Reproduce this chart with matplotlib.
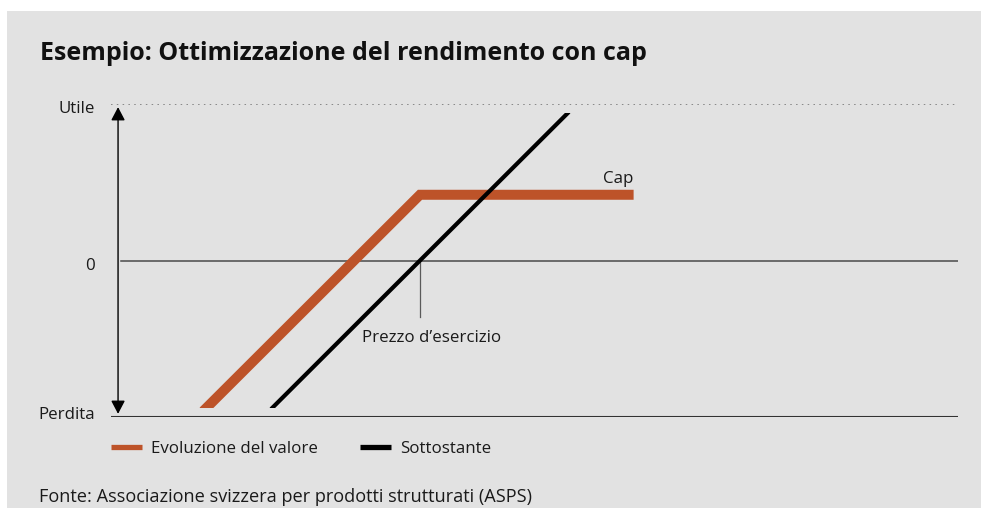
import matplotlib
matplotlib.use("Agg")
import matplotlib.pyplot as plt
from matplotlib.lines import Line2D
from matplotlib.patches import Rectangle

# ---------------- data ----------------
title = "Esempio: Ottimizzazione del rendimento con cap"
source = "Fonte: Associazione svizzera per prodotti strutturati (ASPS)"
level_values = [100, 0, -100]
level_labels = ["Utile", "0", "Perdita"]
strike = 197
cap_level = 42
value_x = [61, 197, 330]          # Evoluzione del valore (capped payoff)
value_y = [-94, 42, 42]
under_x = [103, 291]               # Sottostante
under_y = [-94, 94]
series_names = ["Evoluzione del valore", "Sottostante"]
strike_label = "Prezzo d\u2019esercizio"
cap_label = "Cap"

# ---------------- style ----------------
ORANGE = "#bd5329"
BLACK = "#000000"
BG = "#e2e2e2"
TXT = "#1a1a1a"
FS = 12.2
plt.rcParams["font.family"] = ["Open Sans", "DejaVu Sans"]

W, H = 981, 508
fig = plt.figure(figsize=(W / 100, H / 100), dpi=100, facecolor="white")
fig.patches.append(Rectangle((7 / W, 0), 1 - 7 / W, 1 - 11 / H, transform=fig.transFigure,
                             facecolor=BG, edgecolor="none", zorder=-10))

ax = fig.add_axes([111 / W, (H - 417) / H, (958 - 111) / W, (417 - 104) / H])
ax.set_facecolor("none")
ax.set_xlim(0, 540)
ax.set_ylim(-100, 100)
for s in ax.spines.values():
    s.set_visible(False)
ax.set_xticks([])
ax.set_yticks([])

# reference levels
ax.axhline(level_values[0], xmin=0, xmax=(956 - 111) / (958 - 111), color="#707070",
           lw=1.1, linestyle=(0, (1.0, 2.8)), zorder=1)
ax.axhline(level_values[1], xmin=(121 - 111) / (958 - 111), xmax=1, color="#4a4a4a", lw=1.1, zorder=1)
ax.axhline(level_values[2], xmin=(112 - 111) / (958 - 111), xmax=1, color="#333333", lw=1.5, zorder=1)

# level labels
offsets = [-9, -9, -2]
for v, lab, off in zip(level_values, level_labels, offsets):
    ax.annotate(lab, xy=(0, v), xycoords=("axes fraction", "data"),
                xytext=(-16, off), textcoords="offset pixels",
                ha="right", va="baseline", fontsize=FS, color=TXT)

# double arrow
ax.annotate("", xy=(4.5, 98), xytext=(4.5, -98),
            arrowprops=dict(arrowstyle="<|-|>,head_length=0.8,head_width=0.42",
                            color="black", lw=1.0, shrinkA=0, shrinkB=0),
            annotation_clip=False)

# clip region: lines cut horizontally at their visible ends
ylo = min(min(value_y), min(under_y))
yhi = max(max(value_y), max(under_y))
clip = Rectangle((-50, ylo), 700, yhi - ylo, transform=ax.transData)

l1, = ax.plot(value_x, value_y, color=ORANGE, lw=7.2, solid_capstyle="projecting",
              solid_joinstyle="miter", zorder=3)
l2, = ax.plot(under_x, under_y, color=BLACK, lw=3.0, solid_capstyle="projecting", zorder=4)
l1.set_clip_path(clip)
l2.set_clip_path(clip)

# strike marker
ax.plot([strike, strike], [0, -36], color="#5a5a5a", lw=0.9, zorder=2)
ax.text(strike - 37, -52, strike_label, ha="left", va="baseline", fontsize=FS, color=TXT)
ax.text(value_x[-1] + 3, 49.5, cap_label, ha="right", va="baseline", fontsize=FS, color=TXT)

# legend
handles = [Line2D([0], [0], color=ORANGE, lw=3.8, solid_capstyle="butt"),
           Line2D([0], [0], color=BLACK, lw=3.8, solid_capstyle="butt")]
leg = ax.legend(handles, series_names, ncol=2, frameon=False, fontsize=FS,
                loc="center left", bbox_to_anchor=(111 / W, 1 - 449 / H),
                bbox_transform=fig.transFigure, borderpad=0, borderaxespad=0,
                handlelength=1.83, handletextpad=0.53, columnspacing=2.5)
for t in leg.get_texts():
    t.set_color(TXT)

fig.text(40 / W, 1 - 59.5 / H, title, fontsize=18, fontweight="bold", color="#111111",
         ha="left", va="baseline")
fig.text(39 / W, 1 - 502 / H, source, fontsize=13.1, color=TXT, ha="left", va="baseline")

fig.savefig("out.png", dpi=100, facecolor="white")
